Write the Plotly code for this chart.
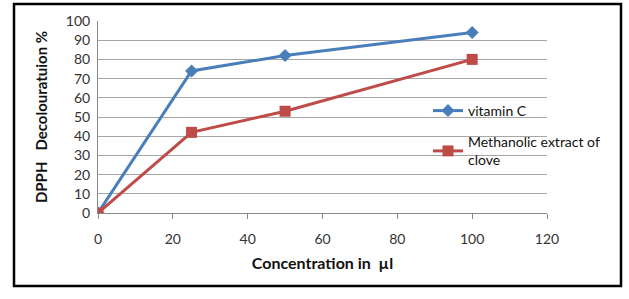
import plotly.graph_objects as go

conc = [0, 25, 50, 100]
vitamin_c = [0, 74, 82, 94]
clove = [0, 42, 53, 80]
x_ticks = [0, 20, 40, 60, 80, 100, 120]
y_ticks = [0, 10, 20, 30, 40, 50, 60, 70, 80, 90, 100]

W, H = 629, 299
L, R, T, B = 98, 547, 21, 213

fig = go.Figure()
fig.add_trace(go.Scatter(x=conc, y=vitamin_c, name="vitamin C", mode="lines+markers",
                         legendgroup="vc",
                         line=dict(color="#4a7ebb", width=3),
                         marker=dict(symbol="diamond", size=10, color="#4a7ebb")))
fig.add_trace(go.Scatter(x=conc, y=clove, name="Methanolic extract of<br>clove", mode="lines+markers",
                         legendgroup="cl",
                         line=dict(color="#be4b48", width=3),
                         marker=dict(symbol="square", size=11, color="#be4b48")))

pw, ph = R - L, B - T
def px(x):
    return (x - L) / pw
def py(y):
    return (B - y) / ph

fig.add_shape(type="rect", xref="paper", yref="paper",
              x0=px(14), x1=px(621), y0=py(286), y1=py(4),
              line=dict(color="black", width=2.5))

fig.update_layout(
    width=W, height=H,
    margin=dict(l=L, r=W - R, t=T, b=H - B, autoexpand=False),
    paper_bgcolor="white", plot_bgcolor="white",
    font=dict(family="Lato, Open Sans, sans-serif", size=14, color="#222"),
    showlegend=True,
    legend=dict(x=px(428), y=py(95), xanchor="left", yanchor="top",
                bgcolor="rgba(0,0,0,0)", font=dict(size=14, color="#111"),
                tracegroupgap=10, itemwidth=30),
    xaxis=dict(range=[0, 120], tickvals=x_ticks, showgrid=False, zeroline=False,
               automargin=False,
               showline=True, linecolor="#888", linewidth=1,
               ticks="outside", ticklen=5, tickcolor="#888", ticklabelstandoff=8,
               title=dict(text="<b>Concentration in  µl</b>", standoff=12,
                          font=dict(size=16, color="#111")),
               tickfont=dict(size=14, color="#333")),
    yaxis=dict(range=[0, 100], tickvals=y_ticks, showgrid=True, gridcolor="#a6a6a6",
               automargin=False, ticklabelstandoff=4,
               gridwidth=1, zeroline=False, showline=True, linecolor="#888",
               ticks="", title=dict(text="<b>DPPH   Decolouratuion %</b>", standoff=14,
                                    font=dict(size=15, color="#111")),
               tickfont=dict(size=14, color="#333")),
)

fig.write_html("out.html", config={"displayModeBar": False},
               post_script="document.body.style.margin='0';")
